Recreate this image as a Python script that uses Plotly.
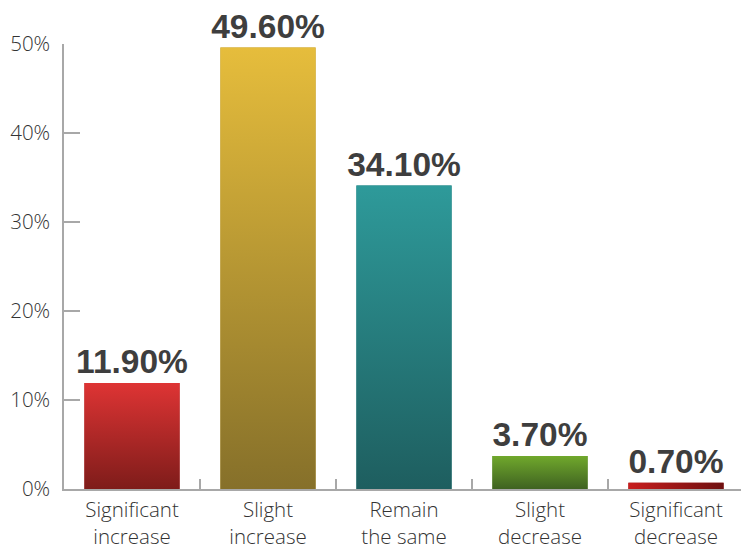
import plotly.graph_objects as go

# Survey outcome shares (percent)
categories = ["Significant<br>increase", "Slight<br>increase", "Remain<br>the same",
              "Slight<br>decrease", "Significant<br>decrease"]
values = [11.9, 49.6, 34.1, 3.7, 0.7]
value_labels = ["11.90%", "49.60%", "34.10%", "3.70%", "0.70%"]

# Fill colours: (dark end, light end) of each bar's shading
shade_dark = ["#7e1c1a", "#86702a", "#1e5e5f", "#3f6221", "#6e1010"]
shade_light = ["#de3434", "#e6bd3c", "#2e9a9a", "#70a82c", "#c81e1e"]
solid = ["#b02828", "#b8962f", "#267c7d", "#588626", "#9a1717"]
gradient_dir = ["vertical", "vertical", "vertical", "vertical", "horizontal"]

BAR_W = 0.7
X_RANGE = [-0.5, 4.478]
AXIS_GREY = "#a8a8a8"
tick_font = dict(family="Open Sans, Roboto, Liberation Sans", size=20.5,
                 color="#333333", weight=300)

n = len(values)
positions = list(range(n))
boundaries = [i + 0.5 for i in range(n - 1)]

fig = go.Figure()

# Base bars with their value labels
fig.add_trace(go.Bar(
    x=positions, y=values, width=BAR_W,
    marker=dict(color=solid, line=dict(width=0)),
    text=value_labels, textposition="outside", cliponaxis=False,
    constraintext="none",
    textfont=dict(family="Liberation Sans, Arial", size=33.5, color="#3e3e3e",
                  weight="bold"),
    hoverinfo="skip", showlegend=False,
))

# Shaded fill laid over each bar
for i, v in enumerate(values):
    x0, x1 = i - BAR_W / 2, i + BAR_W / 2
    if gradient_dir[i] == "horizontal":
        scale = [[0, shade_light[i]], [1, shade_dark[i]]]
    else:
        scale = [[0, shade_dark[i]], [1, shade_light[i]]]
    fig.add_trace(go.Scatter(
        x=[x0, x1, x1, x0, x0], y=[0, 0, v, v, 0],
        mode="lines", line=dict(width=0), fill="toself",
        fillgradient=dict(type=gradient_dir[i], colorscale=scale),
        hoverinfo="skip", showlegend=False,
    ))

# Invisible trace that carries the category-boundary tick axis
fig.add_trace(go.Scatter(x=boundaries, y=[0] * len(boundaries), xaxis="x2",
                         mode="markers", marker=dict(opacity=0),
                         hoverinfo="skip", showlegend=False))

fig.update_layout(
    width=741, height=552,
    margin=dict(l=64, r=0, t=44, b=63, autoexpand=False),
    paper_bgcolor="white", plot_bgcolor="white",
    showlegend=False,
    xaxis=dict(
        tickmode="array", tickvals=positions, ticktext=categories,
        range=X_RANGE, ticks="", automargin=False,
        showline=True, linecolor=AXIS_GREY, linewidth=1.5,
        showgrid=False, zeroline=False, tickfont=tick_font,
        ticklabelstandoff=2, fixedrange=True,
    ),
    xaxis2=dict(
        overlaying="x", anchor="y", side="bottom",
        range=X_RANGE, tickmode="array", tickvals=boundaries,
        ticks="inside", ticklen=10, tickwidth=1.5, tickcolor=AXIS_GREY,
        showticklabels=False, showline=False, showgrid=False,
        zeroline=False, fixedrange=True, automargin=False,
    ),
    yaxis=dict(
        range=[0, 50], tickvals=[0, 10, 20, 30, 40, 50],
        ticktext=["0%", "10%", "20%", "30%", "40%", "50%"],
        ticks="inside", ticklen=16, tickwidth=1.5, tickcolor=AXIS_GREY,
        showline=True, linecolor=AXIS_GREY, linewidth=1.5,
        showgrid=False, zeroline=False, tickfont=tick_font,
        ticklabelstandoff=8, fixedrange=True, automargin=False,
    ),
)

fig.write_html("out.html")
